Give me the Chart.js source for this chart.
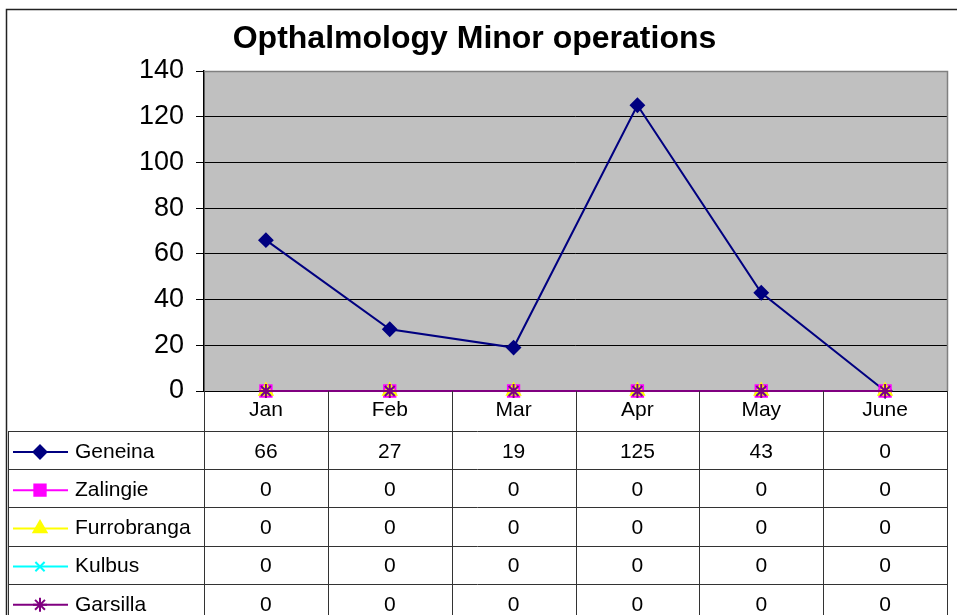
<!DOCTYPE html>
<html>
<head>
<meta charset="utf-8">
<script src="https://cdn.jsdelivr.net/npm/chart.js@4/dist/chart.umd.min.js"></script>
<style>
  html, body { margin: 0; padding: 0; background: #fff; }
  #wrap { width: 957px; height: 615px; }
</style>
</head>
<body>
<div id="wrap"><canvas id="chart-ops" width="957" height="615"></canvas></div>
<script>
var months = ['Jan', 'Feb', 'Mar', 'Apr', 'May', 'June'];
var seriesNames = ['Geneina', 'Zalingie', 'Furrobranga', 'Kulbus', 'Garsilla'];
var geneina = [66, 27, 19, 125, 43, 0];
var zalingie = [0, 0, 0, 0, 0, 0];
var furrobranga = [0, 0, 0, 0, 0, 0];
var kulbus = [0, 0, 0, 0, 0, 0];
var garsilla = [0, 0, 0, 0, 0, 0];
var yTicks = [0, 20, 40, 60, 80, 100, 120, 140];

var fontFam = '"Liberation Sans", Arial, sans-serif';
var colors = ['#000080', '#FF00FF', '#FFFF00', '#00FFFF', '#800080'];
var styles = ['rectRot', 'rect', 'triangle', 'crossRot', 'star'];
var radii = [6.5, 8, 7.5, 6.5, 7];
var allData = [geneina, zalingie, furrobranga, kulbus, garsilla];

// plot background + the data table under the plot
var tablePlugin = {
    id: 'dataTable',
    beforeDraw: function(chart) {
        var ctx = chart.ctx, a = chart.chartArea;
        ctx.save();
        ctx.fillStyle = '#C0C0C0';
        ctx.fillRect(a.left, a.top, a.right - a.left, a.bottom - a.top);
        ctx.restore();
    },
    afterDraw: function(chart) {
        var ctx = chart.ctx, a = chart.chartArea;
        var xs = chart.scales.x;
        var colW = (a.right - a.left) / months.length;
        var rowTop = a.bottom + 40;
        var rowH = 38.2;
        var H = chart.height;
        ctx.save();

        // plot border (top, right)
        ctx.strokeStyle = '#808080';
        ctx.lineWidth = 1.5;
        ctx.beginPath();
        ctx.moveTo(a.left, a.top + 0.5);
        ctx.lineTo(a.right + 0.5, a.top + 0.5);
        ctx.lineTo(a.right + 0.5, a.bottom);
        ctx.stroke();

        // outer frame
        ctx.strokeStyle = '#222';
        ctx.lineWidth = 1.5;
        ctx.beginPath();
        ctx.moveTo(6.5, H);
        ctx.lineTo(6.5, 9.5);
        ctx.lineTo(chart.width, 9.5);
        ctx.stroke();

        // table grid
        ctx.strokeStyle = '#333';
        ctx.lineWidth = 1;
        ctx.beginPath();
        for (var c = 0; c <= months.length; c++) {
            var lx = Math.round(a.left + c * colW) + 0.5;
            ctx.moveTo(lx, a.bottom);
            ctx.lineTo(lx, H);
        }
        ctx.moveTo(8.5, rowTop);
        ctx.lineTo(8.5, H);
        for (var r = 0; r < seriesNames.length; r++) {
            var ly = Math.round(rowTop + r * rowH) + 0.5;
            ctx.moveTo(8, ly);
            ctx.lineTo(a.right, ly);
        }
        ctx.stroke();

        ctx.fillStyle = '#000';
        ctx.font = '21px ' + fontFam;
        ctx.textAlign = 'center';
        ctx.textBaseline = 'middle';
        months.forEach(function(m, i) {
            ctx.fillText(m, xs.getPixelForValue(i), a.bottom + 19.5);
        });

        seriesNames.forEach(function(name, r) {
            var cy = rowTop + r * rowH + 21;
            // legend key
            ctx.strokeStyle = colors[r];
            ctx.lineWidth = 2;
            ctx.beginPath();
            ctx.moveTo(13, cy);
            ctx.lineTo(68, cy);
            ctx.stroke();
            ctx.fillStyle = colors[r];
            Chart.helpers.drawPoint(ctx, {
                pointStyle: styles[r], radius: radii[r], rotation: 0, borderWidth: 2
            }, 40, cy);
            ctx.fillStyle = '#000';
            ctx.textAlign = 'left';
            ctx.fillText(name, 75, cy);
            ctx.textAlign = 'center';
            allData[r].forEach(function(v, i) {
                ctx.fillText(String(v), xs.getPixelForValue(i), cy);
            });
        });
        ctx.restore();
    }
};

var datasets = seriesNames.map(function(name, i) {
    return {
        label: name,
        data: allData[i],
        borderColor: colors[i],
        backgroundColor: colors[i],
        pointBackgroundColor: colors[i],
        pointBorderColor: colors[i],
        pointStyle: styles[i],
        pointRadius: radii[i],
        pointBorderWidth: 2,
        borderWidth: 2,
        tension: 0,
        clip: false,
        order: 5 - i
    };
});

var ctxOps = document.getElementById('chart-ops').getContext('2d');
var chartOps = new Chart(ctxOps, {
    type: 'line',
    data: { labels: months, datasets: datasets },
    options: {
        responsive: false,
        animation: false,
        events: [],
        layout: { padding: { left: 0, right: 8, top: 0, bottom: 224 } },
        plugins: {
            legend: { display: false },
            tooltip: { enabled: false },
            title: {
                display: true,
                text: 'Opthalmology Minor operations',
                color: '#000',
                font: { family: fontFam, size: 32, weight: 'bold' },
                padding: { top: 20, bottom: 12.6 }
            }
        },
        scales: {
            x: { type: 'category', offset: true, display: false },
            y: {
                min: 0,
                max: 140,
                afterBuildTicks: function(s) { s.ticks = yTicks.map(function(v) { return { value: v }; }); },
                afterFit: function(s) { s.width = 204; },
                border: { color: '#000', width: 1.5 },
                grid: {
                    color: function(c) { return c.tick && c.tick.value === 140 ? '#808080' : '#000'; },
                    lineWidth: 1,
                    tickLength: 8,
                    tickColor: '#000'
                },
                ticks: {
                    color: '#000',
                    padding: 12,
                    font: { family: fontFam, size: 27 }
                }
            }
        }
    },
    plugins: [tablePlugin]
});
</script>
</body>
</html>
